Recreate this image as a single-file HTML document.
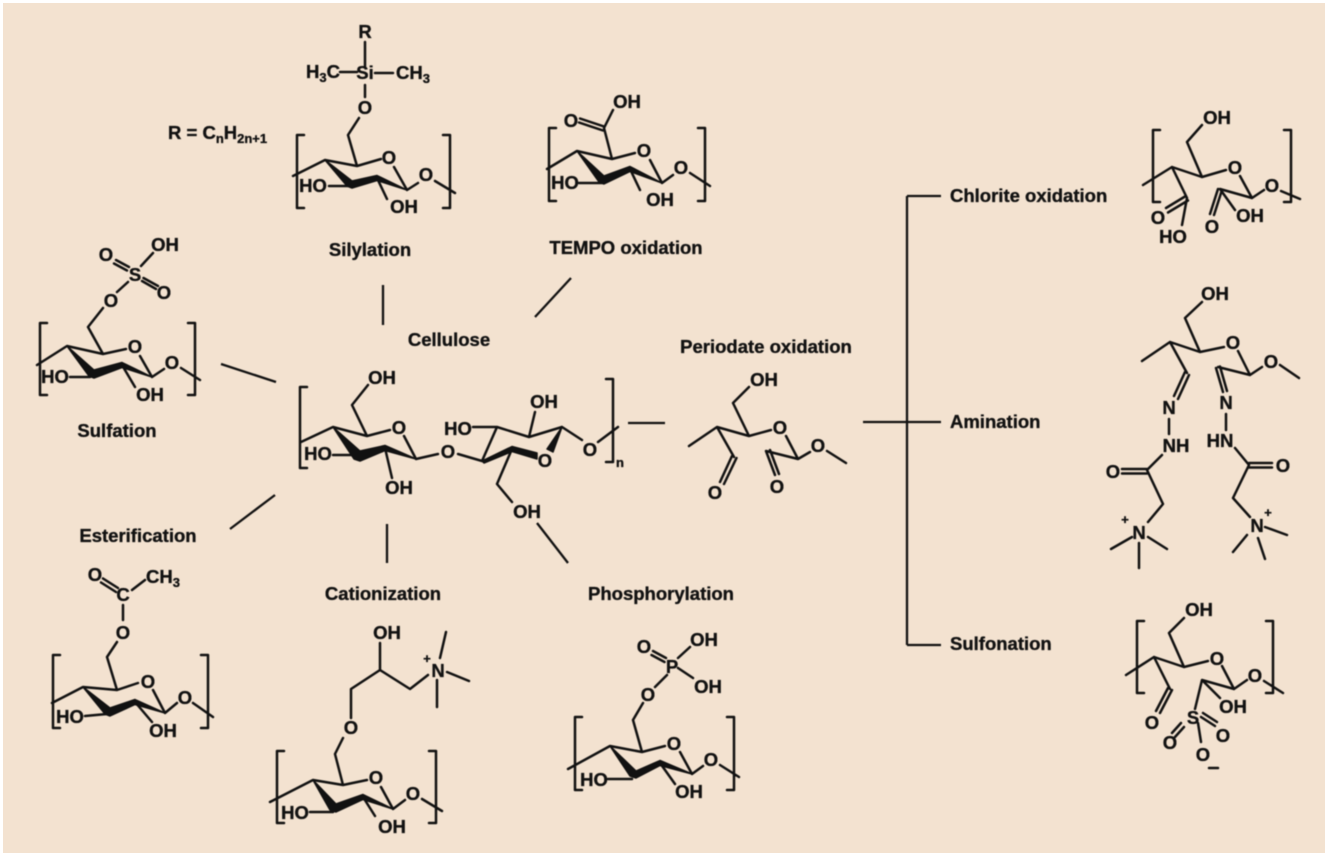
<!DOCTYPE html>
<html><head><meta charset="utf-8"><style>
html,body{margin:0;padding:0;background:#fff;width:1328px;height:857px;overflow:hidden}
svg{display:block}
.b{fill:none;stroke:#111;stroke-width:2.5;stroke-linecap:round;stroke-linejoin:round}
.c{fill:none;stroke:#111;stroke-width:2.3}
.w{fill:#111;stroke:#111;stroke-width:1.5;stroke-linejoin:round}
text{font-family:"Liberation Sans",sans-serif;font-weight:bold;font-size:18.5px;fill:#111;stroke:#111;stroke-width:.35px;text-anchor:middle}
.l{text-anchor:start}
.s{font-size:13px}
#all{filter:blur(.6px)}
</style></head><body>
<svg width="1328" height="857" viewBox="0 0 1328 857" xmlns="http://www.w3.org/2000/svg">
<rect width="1328" height="857" fill="#fff"/>
<rect x="3" y="3" width="1322" height="850" fill="#f3e2d0"/>
<g id="all">
<!-- connectors -->
<path class="c" d="M383 285V325M571 278L535 317M221 364L276 382M275 495L230 529M387 524V563M537 523L568 563M628 423H665M863 422H941M907 196V645M907 196H941M907 645H941"/>

<!-- labels -->
<text x="370" y="256">Silylation</text>
<text x="626" y="254">TEMPO oxidation</text>
<text x="449" y="346">Cellulose</text>
<text x="766" y="353">Periodate oxidation</text>
<text x="117" y="437">Sulfation</text>
<text x="138" y="542">Esterification</text>
<text x="383" y="600">Cationization</text>
<text x="661" y="600">Phosphorylation</text>
<text class="l" x="950" y="202">Chlorite oxidation</text>
<text class="l" x="950" y="428">Amination</text>
<text class="l" x="950" y="650">Sulfonation</text>
<text class="l" x="168" y="139">R = C<tspan class="s" dy="4">n</tspan><tspan dy="-4">H</tspan><tspan class="s" dy="4">2n+1</tspan></text>

<!-- Silylation -->
<path class="b" d="M293 176L325 160L357 166L381 159M394 167L407 190L418 183M435 181L455 193M350 186H329M377 178L387 199M357 166L348 135L359 118M365 42V66M365 85V97M340 72H357M375 73H393M304 135H297V208H304M443 135H450V208H443"/>
<polygon class="w" points="325,160 352,181 377,175.5 407,190 377,180.5 352,188 347,186"/>
<text x="365" y="38">R</text><text x="365" y="79">Si</text>
<text x="323" y="78">H<tspan class="s" dy="4">3</tspan><tspan dy="-4">C</tspan></text>
<text x="413" y="79">CH<tspan class="s" dy="4">3</tspan></text>
<text x="365" y="114">O</text><text x="389" y="164">O</text><text x="426" y="181">O</text>
<text x="313" y="192">HO</text><text x="404" y="213">OH</text>

<!-- TEMPO -->
<path class="b" d="M547 169L577 151L612 159L635 153M650 160L662 183L673 175M690 173L710 186M602 183H579M630 169L640 190M612 159L604 128L613 110M580 118.500L604 126.500M579 122.500L603 130.500M556 128H549V201H556M698 128H705V201H698"/>
<polygon class="w" points="577,151 604,176 630,166.500 662,183 630,171.500 604,184 599,182"/>
<text x="571" y="127">O</text><text x="627" y="108">OH</text><text x="644" y="157">O</text><text x="681" y="174">O</text>
<text x="565" y="189">HO</text><text x="660" y="206">OH</text>

<!-- Sulfation -->
<path class="b" d="M37 365L67 346L103 354L126 349M140 356L152 377L164 369M181 368L200 380M70 377H90M122 365L135 387M103 354L88 327L103 308M117 292L128 282M114 263.500L127 270.500M116 260L129 267M141 266L153 253M142 281L156 289M143.500 278L158 286M47 323H40V395H47M188 323H195V395H188"/>
<polygon class="w" points="67,346 94,370 122,362.500 152,377 122,367.500 94,378 89,376"/>
<text x="106" y="261">O</text><text x="165" y="251">OH</text><text x="135" y="281">S</text><text x="164" y="299">O</text><text x="111" y="307">O</text>
<text x="135" y="353">O</text><text x="172" y="369">O</text><text x="55" y="383">HO</text><text x="150" y="401">OH</text>

<!-- Cellulose -->
<path class="b" d="M301 442L333 427L367 436L390 430M404 436L416 459L438 454M458 454L482 461L497 427L529 437L562 427M333 455H355M385 448L392 478M367 436L352 405L368 385M473 427H497M529 437L535 412M562 427L582 440M598 442L618 427M512 449L497 484L512 502M307 387H300V468H307M606 379H613V462H606M606 462H613"/>
<polygon class="w" points="333,427 360,451 385,445.500 416,459 385,450.500 360,461 354,459"/>
<polygon class="w" points="482,461 512,446.500 537,453 537,459 512,451.500 484,463"/>
<polygon class="w" points="562,427 553,452 547,449"/>
<text x="382" y="384">OH</text><text x="399" y="434">O</text><text x="318" y="460">HO</text><text x="399" y="494">OH</text><text x="448" y="458">O</text>
<text x="544" y="408">OH</text><text x="458" y="435">HO</text><text x="545" y="467">O</text><text x="590" y="456">O</text><text x="527" y="518">OH</text>
<text class="s" x="620" y="467">n</text>

<!-- Periodate -->
<path class="b" d="M689 446L717 427L749 436L771 430M749 436L733 403L749 387M786 436L798 459L810 452M827 451L846 463M717 427L734 457M798 459L766 451M766 451L775 475M770 450L779 474M732 456L720 482M736.500 458L724 484"/>
<text x="764" y="386">OH</text><text x="780" y="434">O</text><text x="818" y="452">O</text><text x="715" y="499">O</text><text x="777" y="493">O</text>

<!-- Chlorite -->
<path class="b" d="M1143 185L1172 167L1202 177L1226 170M1240 176L1252 198L1220 189L1235 210M1252 198L1264 190M1281 191L1300 199M1172 167L1187 198M1202 177L1187 142L1202 125M1187 198L1182 225M1185 196.500L1166 208M1188 200.500L1168 212.500M1218 189L1210 214M1222 190L1214 215M1160 130H1153V202H1160M1284 130H1291V202H1284"/>
<text x="1217" y="124">OH</text><text x="1235" y="174">O</text><text x="1272" y="192">O</text><text x="1158" y="224">O</text><text x="1250" y="222">OH</text><text x="1212" y="233">O</text><text x="1173" y="243">HO</text>

<!-- Amination -->
<path class="b" d="M1202 302L1185 318L1200 352L1170 342L1142 361M1200 352L1224 347M1238 351L1250 375L1218 367M1250 375L1262 367M1280 365L1299 378M1170 342L1187 373M1185 372L1174 396M1189 375L1178 399M1169 419V434M1162 455L1147 470L1163 504L1148 522M1122 469H1147M1122 473.500H1147M1132 537L1111 549M1148 537L1167 549M1139 543V568M1216 368L1223 392M1220 366.500L1227 391M1226 414V430M1235 448L1249 465L1233 498L1250 517M1249 463H1272M1249 467.500H1272M1265 527L1287 535M1247 535L1233 552M1258 538L1265 559"/>
<text x="1215" y="300">OH</text><text x="1233" y="349">O</text><text x="1271" y="368">O</text>
<text x="1169" y="414">N</text><text x="1226" y="409">N</text><text x="1176" y="452">NH</text><text x="1220" y="447">HN</text>
<text x="1113" y="478">O</text><text x="1283" y="472">O</text>
<text x="1139" y="539">N</text><text x="1257" y="532">N</text>
<text class="s" x="1125" y="524">+</text><text class="s" x="1268" y="517">+</text>

<!-- Sulfonation -->
<path class="b" d="M1126 675L1154 657L1184 667L1208 661M1222 666L1234 689L1202 680L1220 698M1234 689L1247 680M1264 681L1283 693M1154 657L1170 689M1184 667L1169 633L1184 618M1202 680L1195 709M1168 688L1156 711M1172 690L1160 713M1198 723L1201 742M1181 723L1172 733M1184 727L1175 737M1203 713L1217 722M1201 717L1215 726M1144 621H1137V693H1144M1266 621H1273V693H1266"/>
<text x="1199" y="616">OH</text><text x="1217" y="665">O</text><text x="1255" y="682">O</text><text x="1233" y="713">OH</text><text x="1193" y="724">S</text>
<text x="1152" y="729">O</text><text x="1170" y="749">O</text><text x="1223" y="742">O</text><text x="1203" y="761">O</text>
<path class="b" d="M1209 768H1218"/>

<!-- Esterification -->
<path class="b" d="M52 703L83 687L117 690L138 683M153 690L165 713L177 703M193 703L213 717M85 716L107 714M135 702L152 722M117 690L107 657L117 642M123 605V620M103 578.500L118 588M101 582.500L116 592M132 590L145 580M60 655H53V728H60M201 655H208V728H201"/>
<polygon class="w" points="83,687 110,708 135,699.500 165,713 135,704.500 110,716 105,714"/>
<text x="95" y="581">O</text><text x="163" y="583">CH<tspan class="s" dy="4">3</tspan></text><text x="123" y="601">C</text><text x="123" y="639">O</text>
<text x="148" y="688">O</text><text x="185" y="704">O</text><text x="70" y="723">HO</text><text x="163" y="737">OH</text>

<!-- Cationization -->
<path class="b" d="M270 802L313 780L343 785L367 780M381 787L393 809L405 800M422 799L442 811M333 812H310M363 797L375 816M343 785L335 754L343 738M351 718V689L380 670L410 689L428 675M380 670V643M440 658L446 632M447 672L469 681M437 680V707M284 751H277V823H284M429 751H436V823H429"/>
<polygon class="w" points="313,780 336,804 363,794.500 393,809 363,799.500 336,812 330,810"/>
<text x="387" y="639">OH</text><text x="438" y="677">N</text><text class="s" x="427" y="663">+</text><text x="351" y="734">O</text>
<text x="376" y="784">O</text><text x="413" y="800">O</text><text x="295" y="819">HO</text><text x="392" y="833">OH</text>

<!-- Phosphorylation -->
<path class="b" d="M568 769L610 746L642 752L665 746M680 752L692 774L703 766M720 765L739 777M608 779H632M660 763L675 784M642 752L633 720L643 703M655 687L667 675M653 651L666 658M651.500 655L664.500 662M678 658L690 647M678 668L693 678M582 717H575V790H582M727 717H734V790H727"/>
<polygon class="w" points="610,746 636,771 660,760.500 692,774 660,765.500 636,778 630,776"/>
<text x="644" y="653">O</text><text x="704" y="646">OH</text><text x="672" y="673">P</text><text x="708" y="693">OH</text><text x="648" y="701">O</text>
<text x="674" y="750">O</text><text x="711" y="766">O</text><text x="594" y="786">HO</text><text x="689" y="798">OH</text>
</g>
</svg>
</body></html>
